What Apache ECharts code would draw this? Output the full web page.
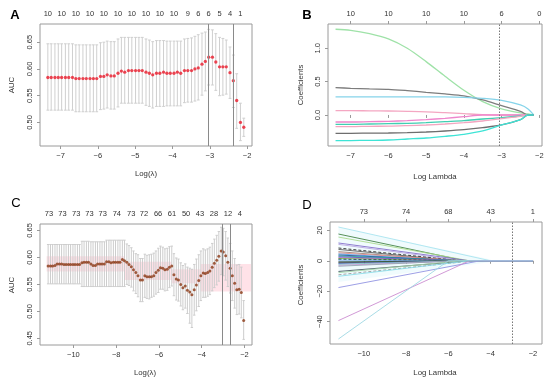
<!DOCTYPE html>
<html><head><meta charset="utf-8">
<script src="https://cdn.jsdelivr.net/npm/echarts@6/dist/echarts.min.js"></script>
<style>html,body{margin:0;padding:0;background:#fff}#c{width:550px;height:387px}</style>
</head><body><div id="c"></div>
<script>
// ---------- Panel A : CV AUC ----------
const aLogLambda = [-7.34,-7.25,-7.15,-7.06,-6.97,-6.87,-6.78,-6.68,-6.59,-6.50,-6.40,-6.31,-6.21,-6.12,-6.03,-5.93,-5.84,-5.75,-5.65,-5.56,-5.46,-5.37,-5.28,-5.18,-5.09,-4.99,-4.90,-4.81,-4.71,-4.62,-4.53,-4.43,-4.34,-4.24,-4.15,-4.06,-3.96,-3.87,-3.78,-3.68,-3.59,-3.49,-3.40,-3.31,-3.21,-3.12,-3.03,-2.93,-2.84,-2.74,-2.65,-2.56,-2.46,-2.37,-2.28,-2.18,-2.09];
const aAUC = [0.584,0.584,0.584,0.584,0.584,0.584,0.584,0.584,0.582,0.582,0.582,0.582,0.582,0.582,0.582,0.586,0.586,0.589,0.587,0.587,0.592,0.596,0.594,0.597,0.597,0.597,0.597,0.597,0.594,0.592,0.589,0.592,0.592,0.594,0.592,0.592,0.592,0.594,0.592,0.597,0.597,0.597,0.600,0.602,0.609,0.614,0.622,0.622,0.613,0.604,0.604,0.604,0.593,0.578,0.541,0.500,0.491];
const aUpper = [0.647,0.647,0.647,0.647,0.647,0.647,0.647,0.647,0.645,0.645,0.645,0.645,0.645,0.645,0.645,0.649,0.650,0.652,0.651,0.651,0.656,0.659,0.659,0.659,0.659,0.659,0.659,0.659,0.656,0.654,0.651,0.653,0.653,0.653,0.652,0.652,0.652,0.652,0.652,0.656,0.657,0.658,0.661,0.664,0.667,0.669,0.674,0.673,0.666,0.659,0.657,0.654,0.641,0.626,0.591,0.536,0.508];
const aLower = [0.523,0.523,0.523,0.523,0.523,0.523,0.523,0.523,0.520,0.520,0.520,0.520,0.520,0.520,0.520,0.524,0.525,0.527,0.525,0.525,0.529,0.536,0.536,0.536,0.536,0.536,0.536,0.536,0.532,0.530,0.527,0.530,0.530,0.530,0.531,0.531,0.531,0.531,0.531,0.537,0.538,0.538,0.540,0.542,0.551,0.559,0.570,0.570,0.560,0.550,0.551,0.553,0.545,0.528,0.489,0.466,0.474];
const aTopPos = [-7.34,-6.97,-6.59,-6.21,-5.84,-5.46,-5.09,-4.71,-4.34,-3.96,-3.59,-3.31,-3.03,-2.74,-2.46,-2.18];
const aTopLab = ['10','10','10','10','10','10','10','10','10','10','9','6','6','5','4','1'];
const aVLines = [-3.03, -2.37];
const aXTicks = [-7,-6,-5,-4,-3,-2];
const aYTicks = [0.50,0.55,0.60,0.65];

// ---------- Panel B : coefficient paths (10 vars) ----------
const bLogLambda = [-7.4,-7.0,-6.5,-6.0,-5.5,-5.0,-4.5,-4.0,-3.5,-3.0,-2.5,-2.3,-2.15];
const bGreen   = [1.285,1.27,1.22,1.14,1.0,0.80,0.58,0.37,0.20,0.09,0.03,0.015,0];
const bGray1   = [0.41,0.40,0.39,0.385,0.365,0.34,0.315,0.285,0.225,0.14,0.055,0,0];
const bCyan1   = [0.27,0.27,0.27,0.27,0.27,0.27,0.27,0.265,0.25,0.22,0.15,0.09,0];
const bPink1   = [0.065,0.065,0.062,0.06,0.055,0.048,0.035,0.02,0.005,0,0,0,0];
const bMagenta = [-0.105,-0.105,-0.1,-0.095,-0.085,-0.07,-0.05,-0.025,0,0,0,0,0];
const bTeal    = [-0.14,-0.14,-0.135,-0.13,-0.125,-0.115,-0.1,-0.085,-0.06,-0.04,-0.015,0,0];
const bPink2   = [-0.175,-0.175,-0.17,-0.168,-0.16,-0.15,-0.135,-0.115,-0.09,-0.055,-0.02,0,0];
const bGray2   = [-0.275,-0.275,-0.272,-0.27,-0.265,-0.255,-0.24,-0.22,-0.19,-0.15,-0.07,0,0];
const bCyan2   = [-0.385,-0.383,-0.38,-0.375,-0.36,-0.345,-0.32,-0.29,-0.24,-0.15,-0.07,0,0];
const bTopPos = [-7,-6,-5,-4,-3,-2];
const bTopLab = ['10','10','10','10','6','0'];
const bVLine = -3.05;
const bYTicks = [0.0,0.5,1.0];

// ---------- Panel C : CV AUC ----------
const cLogLambda = [-11.18,-11.07,-10.97,-10.86,-10.76,-10.65,-10.55,-10.44,-10.34,-10.23,-10.13,-10.02,-9.92,-9.81,-9.71,-9.60,-9.50,-9.39,-9.29,-9.18,-9.08,-8.97,-8.87,-8.76,-8.66,-8.55,-8.45,-8.34,-8.24,-8.13,-8.03,-7.92,-7.82,-7.71,-7.61,-7.50,-7.40,-7.29,-7.19,-7.08,-6.98,-6.87,-6.77,-6.66,-6.56,-6.45,-6.35,-6.24,-6.14,-6.03,-5.93,-5.82,-5.72,-5.61,-5.51,-5.40,-5.30,-5.19,-5.09,-4.98,-4.88,-4.77,-4.67,-4.56,-4.46,-4.35,-4.25,-4.14,-4.04,-3.93,-3.83,-3.72,-3.62,-3.51,-3.41,-3.30,-3.20,-3.09,-2.99,-2.88,-2.78,-2.67,-2.57,-2.46,-2.36,-2.25,-2.15,-2.04];
const cAUC = [0.584,0.584,0.584,0.585,0.588,0.588,0.588,0.587,0.587,0.587,0.587,0.587,0.587,0.587,0.587,0.590,0.591,0.591,0.591,0.588,0.585,0.585,0.588,0.588,0.588,0.588,0.592,0.592,0.590,0.591,0.591,0.591,0.591,0.596,0.594,0.591,0.587,0.5825,0.577,0.572,0.566,0.558,0.558,0.566,0.564,0.564,0.564,0.566,0.572,0.576,0.581,0.580,0.577,0.578,0.582,0.584,0.568,0.560,0.558,0.550,0.544,0.547,0.539,0.536,0.531,0.540,0.549,0.557,0.566,0.571,0.570,0.572,0.575,0.582,0.589,0.595,0.602,0.612,0.610,0.603,0.591,0.580,0.566,0.552,0.540,0.541,0.535,0.483];
const cUpper = [0.624,0.624,0.624,0.624,0.624,0.624,0.624,0.624,0.624,0.624,0.624,0.624,0.624,0.624,0.624,0.630,0.630,0.630,0.630,0.629,0.629,0.629,0.629,0.629,0.629,0.629,0.632,0.632,0.632,0.632,0.632,0.632,0.632,0.632,0.632,0.625,0.622,0.618,0.612,0.607,0.605,0.598,0.598,0.606,0.604,0.605,0.606,0.608,0.612,0.617,0.621,0.619,0.616,0.617,0.620,0.621,0.607,0.599,0.597,0.590,0.585,0.588,0.582,0.580,0.578,0.587,0.597,0.605,0.612,0.616,0.614,0.616,0.619,0.626,0.634,0.641,0.648,0.656,0.654,0.648,0.636,0.626,0.612,0.598,0.586,0.587,0.582,0.520];
const cLower = [0.551,0.551,0.551,0.551,0.551,0.551,0.551,0.551,0.551,0.551,0.551,0.551,0.551,0.551,0.551,0.546,0.546,0.546,0.546,0.546,0.546,0.546,0.546,0.546,0.546,0.546,0.546,0.546,0.546,0.546,0.546,0.546,0.546,0.546,0.546,0.550,0.548,0.545,0.538,0.533,0.527,0.518,0.518,0.526,0.524,0.523,0.526,0.528,0.532,0.535,0.541,0.541,0.538,0.539,0.544,0.547,0.529,0.521,0.519,0.510,0.503,0.506,0.496,0.478,0.470,0.493,0.501,0.509,0.520,0.526,0.526,0.528,0.531,0.538,0.544,0.549,0.556,0.568,0.566,0.558,0.546,0.534,0.520,0.506,0.494,0.495,0.488,0.448];
const cPinkBands = [[-11.25,-7.6,0.574,0.602],[-7.6,-5.4,0.558,0.592],[-5.4,-4.05,0.552,0.578],[-4.05,-1.7,0.537,0.588]];
const cTopPos = [-11.14,-10.51,-9.87,-9.25,-8.63,-7.97,-7.30,-6.70,-6.04,-5.39,-4.73,-4.08,-3.43,-2.77,-2.22];
const cTopLab = ['73','73','73','73','73','74','73','72','66','61','50','43','28','12','4'];
const cVLines = [-3.06, -2.65];
const cXTicks = [-10,-8,-6,-4,-2];
const cYTicks = [0.45,0.50,0.55,0.60,0.65];

// ---------- Panel D : coefficient paths (many vars) ----------
const dStartLogLambda = -11.2;
const dEndLogLambda = -2.0;
const dStart = [22.2,17.6,15.6,11.7,10.8,8.4,7.5,6.0,5.2,4.5,3.8,3.2,2.6,2.0,1.5,1.0,0.5,-0.3,-0.8,-1.3,-1.8,-2.4,-3.0,-3.6,-7.0,-7.8,-9.2,-10.2,-17.6,-39.3,-51.4];
const dZero  = [-4.0,-5.2,-5.0,-5.0,-5.3,-5.4,-5.6,-5.5,-5.2,-5.8,-5.4,-5.0,-5.6,-5.3,-5.9,-5.4,-5.7,-5.2,-5.6,-5.4,-5.0,-5.5,-5.2,-5.6,-5.0,-5.4,-4.8,-5.0,-4.5,-5.0,-6.0];
const dFill = [[-11.2,22.0],[-4.0,0.8],[-4.0,-0.8],[-11.2,-14.0]];
const dTopPos = [-10,-8,-6,-4,-2];
const dTopLab = ['73','74','68','43','1'];
const dVLine = -3.0;
const dXTicks = [-10,-8,-6,-4,-2];
const dYTicks = [-40,-20,0,20];

// ---------- styles ----------
const FONT = 'Liberation Sans, Arial, sans-serif';
const TXT = '#333';
const BOX = '#9a9a9a';
const dColors = ['#a6e3ee','#3c7d3c','#a8d888','#7e66c8','#b7a4e0','#222222','#555555','#9b7b6e','#e58a8a','#4aa3ef','#1f3d8a','#2aa89c','#3f51b5','#b05cc4','#7cb342','#111111','#57c2f2','#9575cd','#1b5e20','#444444','#5c6bc0','#80cbc4','#ce93d8','#90a4ae','#3e4f5a','#a5d6a7','#999999','#86dbe8','#8c8ee0','#c987cf','#9ad6e2'];
const dDashed = [5,15,26];
const bColors = ['#9fe2a8','#7d7d7d','#86d4ea','#f4a7c2','#ee86cc','#3fcfb2','#f2a6c0','#6e6e6e','#3ee4d6'];

const minus = v => String(v).replace('-', '\u2212');
const nearestLab = (pos, lab) => v => { let bi=0, bd=1e9; pos.forEach((p,i)=>{const d=Math.abs(p-v); if(d<bd){bd=d;bi=i;}}); return lab[bi]; };

const grids = [
  {left:40, top:24, width:212, height:122},
  {left:328, top:24, width:214, height:122},
  {left:40, top:224, width:212, height:121},
  {left:330, top:222, width:212, height:122}
];
grids.forEach(g => { g.show = true; g.borderColor = BOX; g.borderWidth = 1; g.backgroundColor = 'transparent'; });

const xr = [[-7.55,-1.87],[-7.60,-1.93],[-11.56,-1.65],[-11.6,-1.57]];
const yr = [[0.456,0.684],[-0.465,1.364],[0.4376,0.662],[-54.7,25.5]];
const xt = [aXTicks, aXTicks, cXTicks, dXTicks];
const yt = [aYTicks, bYTicks, cYTicks, dYTicks];
const yfmt = [v=>v.toFixed(2), v=>v.toFixed(1), v=>v.toFixed(2), v=>minus(Math.round(v))];
const topPos = [aTopPos, bTopPos, cTopPos, dTopPos];
const topLab = [aTopLab, bTopLab, cTopLab, dTopLab];
const topTicks = [false, true, false, true];

const labStyle = {color:TXT, fontSize:7.5, fontFamily:FONT};
const xAxes = [], yAxes = [];
for (let i=0;i<4;i++){
  xAxes.push({type:'value', gridIndex:i, position:'bottom', min:xr[i][0], max:xr[i][1],
    axisLine:{show:false}, splitLine:{show:false},
    axisTick:{show:true, length:3, lineStyle:{color:BOX}, customValues:xt[i]},
    axisLabel:Object.assign({customValues:xt[i], margin:6, formatter:v=>minus(v)}, labStyle)});
  yAxes.push({type:'value', gridIndex:i, min:yr[i][0], max:yr[i][1],
    axisLine:{show:false}, splitLine:{show:false},
    axisTick:{show:true, length:3, lineStyle:{color:BOX}, customValues:yt[i]},
    axisLabel:Object.assign({customValues:yt[i], margin:6, rotate:90, formatter:yfmt[i]}, labStyle)});
}
for (let i=0;i<4;i++){
  xAxes.push({type:'value', gridIndex:i, position:'top', min:xr[i][0], max:xr[i][1],
    axisLine:{show:false}, splitLine:{show:false},
    axisTick:{show:topTicks[i], length:3, lineStyle:{color:BOX}, customValues:topPos[i]},
    axisLabel:Object.assign({customValues:topPos[i], margin:6, formatter:nearestLab(topPos[i], topLab[i])}, labStyle)});
}

function errBars(color, cap){
  return function(params, api){
    const x = api.value(0), lo = api.value(1), hi = api.value(2);
    const p1 = api.coord([x, hi]), p2 = api.coord([x, lo]);
    const st = {stroke: color, lineWidth: 1};
    return {type:'group', children:[
      {type:'line', shape:{x1:p1[0],y1:p1[1],x2:p2[0],y2:p2[1]}, style:st},
      {type:'line', shape:{x1:p1[0]-cap,y1:p1[1],x2:p1[0]+cap,y2:p1[1]}, style:st},
      {type:'line', shape:{x1:p2[0]-cap,y1:p2[1],x2:p2[0]+cap,y2:p2[1]}, style:st}
    ]};
  };
}
const vMark = (vals, type, color) => ({silent:true, symbol:'none', label:{show:false},
  lineStyle:{color:color, type:type, width:1}, emphasis:{disabled:true}, data: vals.map(v=>({xAxis:v}))});

const series = [];
// A
series.push({type:'custom', xAxisIndex:0, yAxisIndex:0, renderItem:errBars('#cfcfcf', 1.4),
  encode:{x:0, y:[1,2]}, data: aLogLambda.map((x,i)=>[x, aLower[i], aUpper[i]]), z:1});
series.push({type:'scatter', xAxisIndex:0, yAxisIndex:0, symbolSize:3.3,
  itemStyle:{color:'#ea1a2a'}, data: aLogLambda.map((x,i)=>[x, aAUC[i]]), z:3,
  markLine: vMark(aVLines, 'solid', '#8a8a8a')});
// B
const bSeries = [bGreen,bGray1,bCyan1,bPink1,bMagenta,bTeal,bPink2,bGray2,bCyan2];
bSeries.forEach((arr, k) => {
  series.push({type:'line', xAxisIndex:1, yAxisIndex:1, smooth:0.3, showSymbol:false,
    lineStyle:{color:bColors[k], width:1.3}, data: bLogLambda.map((x,i)=>[x, arr[i]]),
    markLine: k===0 ? vMark([bVLine], [1.5,1.5], '#777') : undefined});
});
// C
series.push({type:'custom', xAxisIndex:2, yAxisIndex:2, encode:{x:[0,1], y:[2,3]},
  renderItem:function(params, api){
    const p1 = api.coord([api.value(0), api.value(3)]), p2 = api.coord([api.value(1), api.value(2)]);
    return {type:'rect', shape:{x:p1[0], y:p1[1], width:p2[0]-p1[0], height:p2[1]-p1[1]},
      style:{fill:'rgba(255,190,205,0.45)'}};
  }, data: cPinkBands, z:0});
series.push({type:'custom', xAxisIndex:2, yAxisIndex:2, renderItem:errBars('#cdcdcd', 1.2),
  encode:{x:0, y:[1,2]}, data: cLogLambda.map((x,i)=>[x, cLower[i], cUpper[i]]), z:1});
series.push({type:'scatter', xAxisIndex:2, yAxisIndex:2, symbolSize:3,
  itemStyle:{color:'#8c3a16'}, data: cLogLambda.map((x,i)=>[x, cAUC[i]]), z:3,
  markLine: vMark(cVLines, 'solid', '#8a8a8a')});
// D
series.push({type:'custom', xAxisIndex:3, yAxisIndex:3, encode:{x:0, y:1},
  renderItem:function(params, api){
    if (params.dataIndex !== 0) return;
    const pts = dFill.map(p => api.coord(p));
    return {type:'polygon', shape:{points:pts}, style:{fill:'rgba(205,242,248,0.3)'}};
  }, data: dFill, z:0});
dStart.forEach((v, k) => {
  series.push({type:'line', xAxisIndex:3, yAxisIndex:3, showSymbol:false,
    lineStyle:{color:dColors[k % dColors.length], width:1, opacity:0.85, type: dDashed.includes(k) ? [3,2] : 'solid'},
    data: [[dStartLogLambda, v],[dZero[k], 0],[dEndLogLambda, 0]],
    markLine: k===0 ? vMark([dVLine], [1.5,1.5], '#777') : undefined});
});

const txt = (x, y, s, opt) => Object.assign({type:'text', x:x, y:y,
  style:{text:s, fill:TXT, font:'7.8px '+FONT, textAlign:'center', textVerticalAlign:'middle'}}, opt||{});
const rot = {rotation: Math.PI/2};
const graphic = [
  txt(12, 85, 'AUC', rot), txt(146, 174, 'Log(\u03bb)'),
  txt(301, 85, 'Coefficients', rot), txt(435, 176.5, 'Log Lambda'),
  txt(12, 285, 'AUC', rot), txt(145, 373, 'Log(\u03bb)'),
  txt(301, 285, 'Coefficients', rot), txt(435, 372.5, 'Log Lambda'),
  {type:'text', x:15, y:15, style:{text:'A', fill:'#000', font:'bold 13px '+FONT, textAlign:'center', textVerticalAlign:'middle'}},
  {type:'text', x:307, y:15, style:{text:'B', fill:'#000', font:'bold 13px '+FONT, textAlign:'center', textVerticalAlign:'middle'}},
  {type:'text', x:16, y:203, style:{text:'C', fill:'#000', font:'13px '+FONT, textAlign:'center', textVerticalAlign:'middle'}},
  {type:'text', x:307, y:205, style:{text:'D', fill:'#000', font:'13px '+FONT, textAlign:'center', textVerticalAlign:'middle'}}
];

const chart = echarts.init(document.getElementById('c'), null, {renderer:'canvas'});
chart.setOption({animation:false, backgroundColor:'#fff', grid:grids, xAxis:xAxes, yAxis:yAxes, series:series, graphic:graphic});
</script></body></html>
